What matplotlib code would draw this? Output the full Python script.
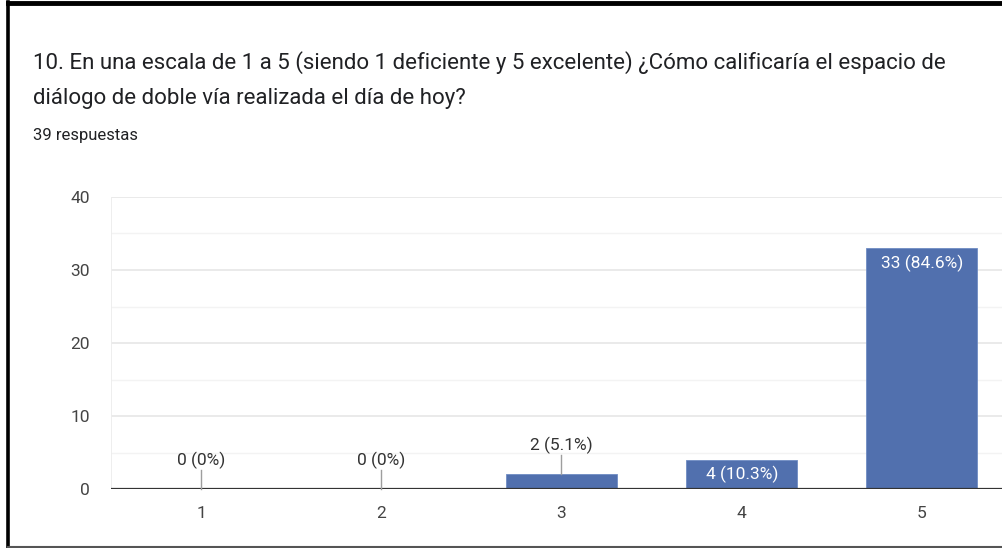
import matplotlib
matplotlib.use("Agg")
import matplotlib.pyplot as plt
from matplotlib.lines import Line2D

categories = ["1", "2", "3", "4", "5"]
counts = [0, 0, 2, 4, 33]
percents = ["0%", "0%", "5.1%", "10.3%", "84.6%"]
yticks = [0, 10, 20, 30, 40]
title_line1 = "10. En una escala de 1 a 5 (siendo 1 deficiente y 5 excelente) ¿Cómo calificaría el espacio de"
title_line2 = "diálogo de doble vía realizada el día de hoy?"
subtitle = "39 respuestas"

W, H = 1003, 548
plt.rcParams['font.family'] = ['Roboto', 'DejaVu Sans']
fig = plt.figure(figsize=(W / 100, H / 100), dpi=100)
fig.patch.set_facecolor("white")

def fx(px):
    return px / W

def fy(py):
    return 1 - py / H

# border
fig.add_artist(Line2D([fx(8.5), fx(8.5)], [fy(2), fy(547)], color="black", lw=2.6, transform=fig.transFigure))
fig.add_artist(Line2D([fx(8), 1.0], [fy(2.5), fy(2.5)], color="black", lw=3.5, transform=fig.transFigure))
fig.add_artist(Line2D([fx(8), 1.0], [fy(546.5), fy(546.5)], color="#555555", lw=1.5, transform=fig.transFigure))

fig.text(fx(33), fy(69), title_line1, fontsize=16, color="#202124", va="baseline", ha="left")
fig.text(fx(33), fy(104), title_line2, fontsize=16, color="#202124", va="baseline", ha="left")
fig.text(fx(33), fy(140), subtitle, fontsize=12, color="#202124", va="baseline", ha="left")

left_px, right_px, top_px, bot_px = 111, 1012, 197, 489
ax = fig.add_axes([fx(left_px), fy(bot_px), (right_px - left_px) / W, (bot_px - top_px) / H])
ax.set_xlim(0.5, 5.5)
ax.set_ylim(0, 40)
x = list(range(1, len(categories) + 1))
bar_color = "#5170ae"
ax.bar(x, counts, width=0.615, color=bar_color, edgecolor="#6f8cc4", linewidth=0.6, zorder=3)

for y in [5, 15, 25, 35]:
    ax.axhline(y, color="#f3f3f3", lw=1.0, zorder=1)
for y in yticks[1:]:
    ax.axhline(y, color="#e8e8e8", lw=1.3, zorder=1)
ax.axhline(0, color="#333333", lw=1.6, zorder=4)
ax.axvline(0.5, color="#ededed", lw=1.3, zorder=1)

ax.set_yticks(yticks)
ax.set_xticks(x)
ax.set_xticklabels(categories)
ax.tick_params(axis="both", length=0, labelsize=12.5, colors="#444444")
ax.tick_params(axis="y", pad=15)
ax.tick_params(axis="x", pad=12)
for s in ax.spines.values():
    s.set_visible(False)

ppu = (bot_px - top_px) / 40.0
for xi, c, p in zip(x, counts, percents):
    lab = f"{c} ({p})"
    if c >= 3:
        bar_h_px = c * ppu
        if bar_h_px > 40:
            ax.annotate(lab, (xi, c), xytext=(0, -15), textcoords="offset pixels",
                        ha="center", va="center", color="white", fontsize=12.5, zorder=5)
        else:
            ax.text(xi, c / 2, lab, ha="center", va="center", color="white", fontsize=12.5, zorder=5)
    else:
        ax.annotate(lab, (xi, c), xytext=(0, 29), textcoords="offset pixels",
                    ha="center", va="center", color="#333333", fontsize=12.5, zorder=5)
        ax.plot([xi, xi], [c, c + 19 / ppu], color="#9e9e9e", lw=1.0, zorder=5, clip_on=False)

fig.savefig("out.png", dpi=100)
